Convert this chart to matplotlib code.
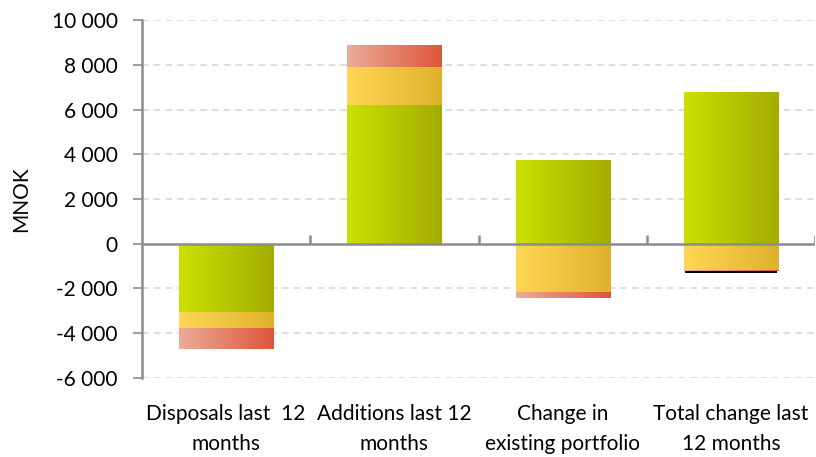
import numpy as np
import matplotlib
matplotlib.use("Agg")
import matplotlib.pyplot as plt
from matplotlib.colors import LinearSegmentedColormap

plt.rcParams['font.family'] = ['Lato', 'DejaVu Sans']

# data (MNOK)
categories = ['Disposals last  12\nmonths', 'Additions last 12\nmonths',
              'Change in\nexisting portfolio', 'Total change last\n12 months']
green = [-3030, 6220, 3760, 6800]
yellow = [-715, 1670, -2135, -1165]
red = [-940, 1015, -270, -40]
black = [0, 0, 0, -100]

yticks = [-6000, -4000, -2000, 0, 2000, 4000, 6000, 8000, 10000]
ytick_labels = ['-6 000', '-4 000', '-2 000', '0', '2 000', '4 000', '6 000', '8 000', '10 000']

grads = {
    'green': ('#CCE000', '#A2AD00'),
    'yellow': ('#FFD655', '#DFB22B'),
    'red': ('#EBAD99', '#DD553A'),
}

fig = plt.figure(figsize=(8.16, 4.57), dpi=100)
ax = fig.add_axes([0.174, 0.173, 0.825, 0.783])

x = np.arange(len(categories))
w = 0.56


def grad_bars(bars, name):
    cmap = LinearSegmentedColormap.from_list(name, grads[name])
    g = np.linspace(0, 1, 256).reshape(1, -1)
    for b in bars:
        b.set_facecolor('none')
        b.set_edgecolor('none')
        x0, y0 = b.get_x(), b.get_y()
        x1, y1 = x0 + b.get_width(), y0 + b.get_height()
        if y0 == y1:
            continue
        im = ax.imshow(g, cmap=cmap, aspect='auto', extent=(x0, x1, min(y0, y1), max(y0, y1)),
                       zorder=3, interpolation='bilinear')
        im.set_clip_path(b)


# stack positive and negative separately
pos = np.zeros(len(x))
neg = np.zeros(len(x))
for name, vals in [('green', green), ('yellow', yellow), ('red', red)]:
    vals = np.array(vals, dtype=float)
    bottom = np.where(vals >= 0, pos, neg)
    bars = ax.bar(x, vals, w, bottom=bottom, zorder=3)
    grad_bars(bars, name)
    pos += np.where(vals >= 0, vals, 0)
    neg += np.where(vals < 0, vals, 0)

vals = np.array(black, dtype=float)
ax.bar(x, vals, w * 0.98, bottom=neg, color='black', zorder=3)

ax.set_xlim(-0.5, 3.5)
ax.set_ylim(-6000, 10000)

ax.set_yticks(yticks)
ax.set_yticklabels(ytick_labels, fontsize=15)
ax.set_ylabel('MNOK', fontsize=15)
ax.yaxis.set_label_coords(-0.165, 0.5)
for t in yticks:
    if t != 0:
        ax.axhline(t, color='#D9D9D9', lw=1.2, ls=(0, (4, 3)), zorder=1)
ax.axhline(0, color='#8C8C8C', lw=1.8, zorder=4)
# category boundary tick marks on the zero line
ax.vlines(np.arange(0.5, 4.0, 1.0), 0, 380, color='#8C8C8C', lw=1.8, zorder=4)

ax.set_xticks(x)
ax.set_xticklabels(categories, fontsize=15, linespacing=1.6)
ax.tick_params(axis='x', length=0, pad=19)
ax.tick_params(axis='y', length=6.5, width=1.2, color='#8C8C8C', pad=11)

for s in ['top', 'right', 'bottom']:
    ax.spines[s].set_visible(False)
ax.spines['left'].set_color('#8C8C8C')
ax.spines['left'].set_linewidth(1.8)

fig.savefig('out.png', dpi=100)
